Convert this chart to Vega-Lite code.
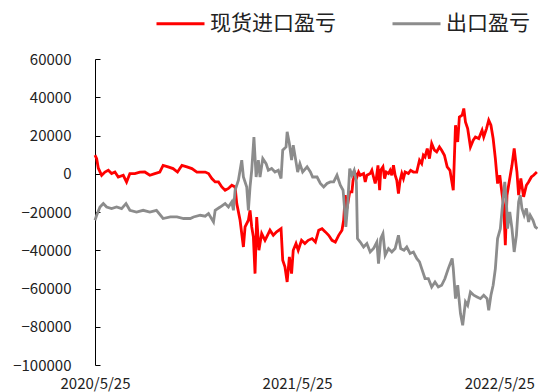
{
"$schema": "https://vega.github.io/schema/vega-lite/v6.json",
"width": 443, "height": 306,
"autosize": {"type": "none"},
"padding": {"left": 95, "top": 59, "right": 0, "bottom": 27},
"background": "white",
"config": {"view": {"stroke": null}, "font": "Noto Sans CJK SC"},
"datasets": {
"imp": [
{"date":"2020-05-25","v":9700},{"date":"2020-05-28","v":7900},{"date":"2020-05-31","v":2900},{"date":"2020-06-06","v":-800},{"date":"2020-06-12","v":900},{"date":"2020-06-18","v":1800},{"date":"2020-06-24","v":100},{"date":"2020-06-30","v":900},{"date":"2020-07-06","v":-1700},{"date":"2020-07-15","v":-800},{"date":"2020-07-21","v":-4300},{"date":"2020-07-27","v":100},{"date":"2020-08-05","v":100},{"date":"2020-08-14","v":800},{"date":"2020-08-23","v":900},{"date":"2020-09-01","v":-800},{"date":"2020-09-10","v":100},{"date":"2020-09-19","v":900},{"date":"2020-09-25","v":4400},{"date":"2020-10-04","v":3600},{"date":"2020-10-13","v":2700},{"date":"2020-10-21","v":900},{"date":"2020-10-29","v":4400},{"date":"2020-11-07","v":3600},{"date":"2020-11-16","v":2700},{"date":"2020-11-25","v":900},{"date":"2020-12-10","v":900},{"date":"2020-12-16","v":100},{"date":"2020-12-22","v":-2500},{"date":"2020-12-28","v":-4300},{"date":"2021-01-03","v":-4300},{"date":"2021-01-09","v":-6900},{"date":"2021-01-15","v":-8600},{"date":"2021-01-21","v":-7700},{"date":"2021-01-27","v":-6000},{"date":"2021-02-02","v":-6900},{"date":"2021-02-05","v":-15600},{"date":"2021-02-11","v":-24300},{"date":"2021-02-17","v":-38300},{"date":"2021-02-20","v":-27800},{"date":"2021-02-26","v":-24300},{"date":"2021-03-01","v":-19100},{"date":"2021-03-04","v":-27800},{"date":"2021-03-07","v":-33000},{"date":"2021-03-10","v":-52200},{"date":"2021-03-13","v":-22600},{"date":"2021-03-17","v":-40000},{"date":"2021-03-22","v":-31300},{"date":"2021-03-28","v":-34800},{"date":"2021-04-03","v":-31300},{"date":"2021-04-06","v":-29500},{"date":"2021-04-12","v":-32200},{"date":"2021-04-18","v":-30400},{"date":"2021-04-26","v":-28700},{"date":"2021-04-29","v":-45200},{"date":"2021-05-03","v":-48700},{"date":"2021-05-07","v":-56600},{"date":"2021-05-11","v":-43500},{"date":"2021-05-15","v":-52200},{"date":"2021-05-18","v":-40000},{"date":"2021-05-23","v":-36500},{"date":"2021-05-27","v":-40000},{"date":"2021-06-02","v":-34800},{"date":"2021-06-08","v":-36500},{"date":"2021-06-14","v":-34800},{"date":"2021-06-21","v":-33900},{"date":"2021-06-27","v":-35700},{"date":"2021-07-03","v":-29500},{"date":"2021-07-09","v":-28700},{"date":"2021-07-15","v":-30400},{"date":"2021-07-21","v":-32200},{"date":"2021-07-27","v":-34800},{"date":"2021-08-02","v":-35700},{"date":"2021-08-08","v":-32200},{"date":"2021-08-14","v":-29500},{"date":"2021-08-17","v":-24300},{"date":"2021-08-20","v":-11200},{"date":"2021-08-23","v":-18200},{"date":"2021-08-28","v":-9500},{"date":"2021-09-01","v":-9500},{"date":"2021-09-03","v":-3400},{"date":"2021-09-07","v":100},{"date":"2021-09-10","v":-1700},{"date":"2021-09-13","v":900},{"date":"2021-09-16","v":-800},{"date":"2021-09-22","v":100},{"date":"2021-09-25","v":-4300},{"date":"2021-09-28","v":-800},{"date":"2021-10-04","v":100},{"date":"2021-10-07","v":1800},{"date":"2021-10-10","v":-1700},{"date":"2021-10-13","v":-5100},{"date":"2021-10-15","v":-2500},{"date":"2021-10-18","v":4400},{"date":"2021-10-21","v":-8600},{"date":"2021-10-23","v":1800},{"date":"2021-10-27","v":3600},{"date":"2021-10-30","v":-2500},{"date":"2021-11-02","v":900},{"date":"2021-11-06","v":100},{"date":"2021-11-09","v":1800},{"date":"2021-11-12","v":-800},{"date":"2021-11-15","v":4400},{"date":"2021-11-18","v":-800},{"date":"2021-11-21","v":-3400},{"date":"2021-11-24","v":-10400},{"date":"2021-11-27","v":-3400},{"date":"2021-11-30","v":100},{"date":"2021-12-03","v":-2500},{"date":"2021-12-06","v":900},{"date":"2021-12-12","v":100},{"date":"2021-12-16","v":1800},{"date":"2021-12-21","v":900},{"date":"2021-12-27","v":900},{"date":"2022-01-01","v":7100},{"date":"2022-01-05","v":5300},{"date":"2022-01-08","v":9700},{"date":"2022-01-11","v":8800},{"date":"2022-01-15","v":13200},{"date":"2022-01-19","v":7900},{"date":"2022-01-23","v":15800},{"date":"2022-01-28","v":12300},{"date":"2022-02-01","v":11400},{"date":"2022-02-06","v":14000},{"date":"2022-02-10","v":12300},{"date":"2022-02-15","v":9700},{"date":"2022-02-20","v":3600},{"date":"2022-02-25","v":1800},{"date":"2022-03-03","v":-8600},{"date":"2022-03-07","v":25400},{"date":"2022-03-11","v":16600},{"date":"2022-03-14","v":29700},{"date":"2022-03-19","v":30600},{"date":"2022-03-22","v":34100},{"date":"2022-03-25","v":27100},{"date":"2022-03-29","v":23600},{"date":"2022-04-03","v":14000},{"date":"2022-04-08","v":17500},{"date":"2022-04-12","v":19200},{"date":"2022-04-18","v":18400},{"date":"2022-04-24","v":22700},{"date":"2022-04-27","v":19200},{"date":"2022-05-02","v":23600},{"date":"2022-05-06","v":28000},{"date":"2022-05-10","v":25400},{"date":"2022-05-14","v":18400},{"date":"2022-05-18","v":7900},{"date":"2022-05-22","v":-5100},{"date":"2022-05-26","v":-800},{"date":"2022-05-30","v":-10400},{"date":"2022-06-02","v":-16500},{"date":"2022-06-05","v":-37400},{"date":"2022-06-08","v":-11200},{"date":"2022-06-13","v":-2500},{"date":"2022-06-17","v":4400},{"date":"2022-06-21","v":13200},{"date":"2022-06-26","v":900},{"date":"2022-06-29","v":-11200},{"date":"2022-07-03","v":-2500},{"date":"2022-07-08","v":-12100},{"date":"2022-07-13","v":-6000},{"date":"2022-07-17","v":-4300},{"date":"2022-07-22","v":-1700},{"date":"2022-07-26","v":-800},{"date":"2022-08-01","v":900}
],
"exp": [
{"date":"2020-05-25","v":-24300},{"date":"2020-05-28","v":-21700},{"date":"2020-06-03","v":-17400},{"date":"2020-06-09","v":-15600},{"date":"2020-06-15","v":-17400},{"date":"2020-06-24","v":-18200},{"date":"2020-07-03","v":-17400},{"date":"2020-07-12","v":-18200},{"date":"2020-07-20","v":-15600},{"date":"2020-07-27","v":-19100},{"date":"2020-08-08","v":-20000},{"date":"2020-08-20","v":-19100},{"date":"2020-09-01","v":-20000},{"date":"2020-09-13","v":-19100},{"date":"2020-09-25","v":-23400},{"date":"2020-10-08","v":-22600},{"date":"2020-10-20","v":-22600},{"date":"2020-11-01","v":-23400},{"date":"2020-11-13","v":-23400},{"date":"2020-11-19","v":-22600},{"date":"2020-12-01","v":-21700},{"date":"2020-12-10","v":-22200},{"date":"2020-12-16","v":-20800},{"date":"2020-12-25","v":-25200},{"date":"2020-12-28","v":-19100},{"date":"2021-01-06","v":-17400},{"date":"2021-01-15","v":-15600},{"date":"2021-01-21","v":-17400},{"date":"2021-01-27","v":-14700},{"date":"2021-01-30","v":-19100},{"date":"2021-02-02","v":-8600},{"date":"2021-02-08","v":-3400},{"date":"2021-02-14","v":7100},{"date":"2021-02-17","v":-1700},{"date":"2021-02-23","v":-6900},{"date":"2021-02-26","v":-19100},{"date":"2021-03-01","v":-6900},{"date":"2021-03-04","v":1800},{"date":"2021-03-08","v":19200},{"date":"2021-03-12","v":-1700},{"date":"2021-03-16","v":7100},{"date":"2021-03-19","v":-1700},{"date":"2021-03-24","v":7900},{"date":"2021-03-30","v":5300},{"date":"2021-04-03","v":1800},{"date":"2021-04-09","v":2700},{"date":"2021-04-15","v":900},{"date":"2021-04-21","v":1800},{"date":"2021-04-26","v":-2500},{"date":"2021-04-29","v":12300},{"date":"2021-05-05","v":14000},{"date":"2021-05-07","v":21900},{"date":"2021-05-11","v":15800},{"date":"2021-05-15","v":7100},{"date":"2021-05-18","v":14900},{"date":"2021-05-23","v":6200},{"date":"2021-05-26","v":900},{"date":"2021-05-30","v":5300},{"date":"2021-06-04","v":900},{"date":"2021-06-12","v":3600},{"date":"2021-06-18","v":900},{"date":"2021-06-22","v":-1700},{"date":"2021-06-30","v":-1700},{"date":"2021-07-06","v":-5100},{"date":"2021-07-12","v":-6900},{"date":"2021-07-18","v":-5100},{"date":"2021-07-24","v":-4300},{"date":"2021-07-30","v":-4300},{"date":"2021-08-05","v":-800},{"date":"2021-08-11","v":-6000},{"date":"2021-08-16","v":-8600},{"date":"2021-08-18","v":-15600},{"date":"2021-08-21","v":-27800},{"date":"2021-08-24","v":-17400},{"date":"2021-08-28","v":2700},{"date":"2021-09-01","v":-800},{"date":"2021-09-05","v":1800},{"date":"2021-09-09","v":-4300},{"date":"2021-09-11","v":-33900},{"date":"2021-09-16","v":-35700},{"date":"2021-09-22","v":-38300},{"date":"2021-09-28","v":-36500},{"date":"2021-10-04","v":-40900},{"date":"2021-10-10","v":-39100},{"date":"2021-10-16","v":-35700},{"date":"2021-10-19","v":-47000},{"date":"2021-10-23","v":-33900},{"date":"2021-10-27","v":-31300},{"date":"2021-10-31","v":-42600},{"date":"2021-11-06","v":-39100},{"date":"2021-11-12","v":-40900},{"date":"2021-11-18","v":-39100},{"date":"2021-11-24","v":-32200},{"date":"2021-11-28","v":-39100},{"date":"2021-12-04","v":-40000},{"date":"2021-12-09","v":-38300},{"date":"2021-12-15","v":-41700},{"date":"2021-12-21","v":-40900},{"date":"2021-12-27","v":-44300},{"date":"2022-01-01","v":-46100},{"date":"2022-01-05","v":-49600},{"date":"2022-01-11","v":-54800},{"date":"2022-01-17","v":-54800},{"date":"2022-01-23","v":-59200},{"date":"2022-01-29","v":-56600},{"date":"2022-02-04","v":-59200},{"date":"2022-02-10","v":-58300},{"date":"2022-02-16","v":-54800},{"date":"2022-02-22","v":-49600},{"date":"2022-03-01","v":-44300},{"date":"2022-03-03","v":-49600},{"date":"2022-03-07","v":-65300},{"date":"2022-03-11","v":-58300},{"date":"2022-03-16","v":-73100},{"date":"2022-03-20","v":-79200},{"date":"2022-03-25","v":-67000},{"date":"2022-03-29","v":-68800},{"date":"2022-04-03","v":-61800},{"date":"2022-04-09","v":-63500},{"date":"2022-04-15","v":-64400},{"date":"2022-04-21","v":-65300},{"date":"2022-04-27","v":-63500},{"date":"2022-05-03","v":-65300},{"date":"2022-05-06","v":-71400},{"date":"2022-05-10","v":-63500},{"date":"2022-05-14","v":-58300},{"date":"2022-05-18","v":-49600},{"date":"2022-05-22","v":-33900},{"date":"2022-05-27","v":-28700},{"date":"2022-06-01","v":-13000},{"date":"2022-06-04","v":-4300},{"date":"2022-06-07","v":-14700},{"date":"2022-06-09","v":-28700},{"date":"2022-06-13","v":-20000},{"date":"2022-06-17","v":-28700},{"date":"2022-06-21","v":-40900},{"date":"2022-06-25","v":-32200},{"date":"2022-06-29","v":-14700},{"date":"2022-07-02","v":-11200},{"date":"2022-07-05","v":-18200},{"date":"2022-07-09","v":-21700},{"date":"2022-07-13","v":-18200},{"date":"2022-07-17","v":-25200},{"date":"2022-07-20","v":-21700},{"date":"2022-07-25","v":-24300},{"date":"2022-07-29","v":-27800},{"date":"2022-08-02","v":-28700}
],
"zero": [{"v": 0}]
},
"layer": [
{
"data": {"name": "zero"},
"mark": {"type": "rule", "color": "#000000", "strokeWidth": 1},
"encoding": {"y": {"field": "v", "type": "quantitative"}}
},
{
"data": {"name": "imp"},
"mark": {"type": "line", "strokeWidth": 2.8, "interpolate": "linear"},
"encoding": {
"x": {"field": "date", "type": "temporal"},
"y": {"field": "v", "type": "quantitative"},
"color": {"datum": "现货进口盈亏"}
}
},
{
"data": {"name": "exp"},
"mark": {"type": "line", "strokeWidth": 2.8, "interpolate": "linear"},
"encoding": {
"x": {"field": "date", "type": "temporal"},
"y": {"field": "v", "type": "quantitative"},
"color": {"datum": "出口盈亏"}
}
}
],
"resolve": {"scale": {"x": "shared", "y": "shared", "color": "shared"}},
"encoding": {
"x": {"field": "date", "type": "temporal",
"scale": {"type": "utc", "domain": [{"year": 2020, "month": 5, "date": 25, "utc": true}, {"year": 2022, "month": 8, "date": 3, "utc": true}]},
"axis": {"title": null, "values": [{"year": 2020, "month": 5, "date": 25, "utc": true}, {"year": 2021, "month": 5, "date": 25, "utc": true}, {"year": 2022, "month": 5, "date": 25, "utc": true}],
"format": "%Y/%-m/%-d", "domain": false, "ticks": false, "grid": false, "labelFontSize": 15, "labelColor": "#222222", "labelPadding": 11, "labelFlush": false, "labelOverlap": false, "labelFont": "Noto Sans CJK SC"}},
"y": {"field": "v", "type": "quantitative",
"scale": {"domain": [-100000, 60000], "nice": false, "zero": false},
"axis": {"title": null, "values": [-100000, -80000, -60000, -40000, -20000, 0, 20000, 40000, 60000], "format": "d", "domain": true, "domainColor": "#000000", "ticks": true, "tickSize": -5, "tickColor": "#000000", "grid": false, "labelFontSize": 15, "labelColor": "#222222", "labelPadding": 29, "labelFont": "Noto Sans CJK SC"}},
"color": {"type": "nominal",
"scale": {"domain": ["现货进口盈亏", "出口盈亏"], "range": ["#ff0000", "#8c8c8c"]},
"legend": {"title": null, "orient": "none", "legendX": 60, "legendY": -61, "direction": "horizontal", "symbolType": "stroke", "symbolSize": 2304, "symbolStrokeWidth": 3, "labelFontSize": 21, "labelFont": "Noto Sans CJK SC", "labelColor": "#222222", "labelOffset": 4, "columnPadding": 50, "padding": 0}}
}
}
